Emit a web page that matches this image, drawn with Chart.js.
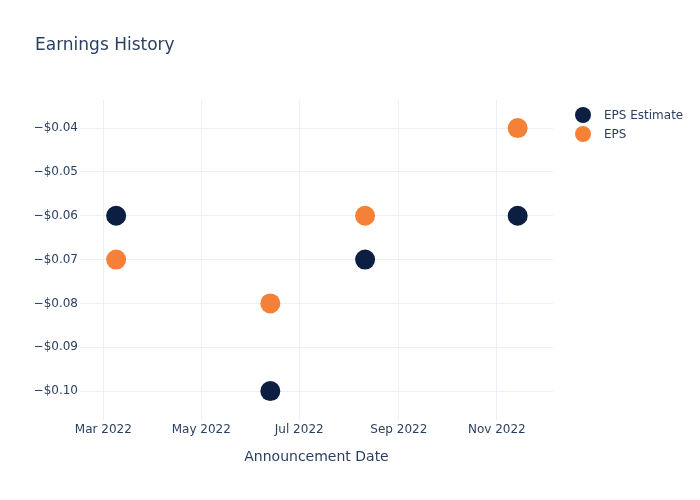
<!DOCTYPE html>
<html>
<head>
<meta charset="utf-8">
<script src="https://cdn.jsdelivr.net/npm/chart.js@4/dist/chart.umd.min.js"></script>
<style>
    body { margin: 0; background: #fff; }
    #wrap { position: relative; width: 700px; height: 500px; }
    #legend {
        position: absolute; left: 575px; top: 105px;
        margin: 0; padding: 0; list-style: none;
        font-family: 'DejaVu Sans', sans-serif; font-size: 12px; color: #2a3f5f;
    }
    #legend li { display: flex; align-items: center; height: 19px; white-space: nowrap; }
    #legend .dot { width: 16px; height: 16px; border-radius: 50%; margin-right: 13px; }
</style>
</head>
<body>
<div id="wrap">
    <canvas id="epsChart" width="700" height="500"></canvas>
    <ul id="legend"></ul>
</div>
<script>

/* ==========================
   DATA
========================== */

const announceDates = ["2022-03-09", "2022-06-13", "2022-08-11", "2022-11-14"];
const epsEstimate = [-0.06, -0.10, -0.07, -0.06];
const epsActual = [-0.07, -0.08, -0.06, -0.04];

const xTickDates = ["2022-03-01", "2022-05-01", "2022-07-01", "2022-09-01", "2022-11-01"];
const xTickLabels = ["Mar 2022", "May 2022", "Jul 2022", "Sep 2022", "Nov 2022"];
const yTickValues = [-0.10, -0.09, -0.08, -0.07, -0.06, -0.05, -0.04];

const xRange = ["2022-02-14T12:00:00Z", "2022-12-06T00:00:00Z"];
const yRange = [-0.1066, -0.0336];

/* ==========================
   HELPERS
========================== */

const textColor = "#2a3f5f";
const gridColor = "#ebf0f8";
const fontFamily = "'DejaVu Sans', sans-serif";
const seriesColors = ["#0c1f42", "#f58139"];

function toTime(s) {
    return new Date(s.length === 10 ? s + "T00:00:00Z" : s).getTime();
}

function points(values) {
    return values.map((v, i) => ({ x: toTime(announceDates[i]), y: v }));
}

// html legend built from the chart's datasets
const htmlLegend = {
    id: "htmlLegend",
    afterUpdate(chart) {
        const list = document.getElementById("legend");
        list.innerHTML = "";
        chart.data.datasets.forEach((ds) => {
            const li = document.createElement("li");
            const dot = document.createElement("span");
            dot.className = "dot";
            dot.style.background = ds.backgroundColor;
            li.appendChild(dot);
            li.appendChild(document.createTextNode(ds.label));
            list.appendChild(li);
        });
    }
};

/* ==========================
   CHART
========================== */

const canvas = document.getElementById("epsChart");

new Chart(canvas, {

    type: "scatter",

    data: {
        datasets: [
            {
                label: "EPS Estimate",
                data: points(epsEstimate),
                backgroundColor: seriesColors[0],
                borderColor: seriesColors[0],
                pointRadius: 10,
                pointBorderWidth: 0
            },
            {
                label: "EPS",
                data: points(epsActual),
                backgroundColor: seriesColors[1],
                borderColor: seriesColors[1],
                pointRadius: 10,
                pointBorderWidth: 0
            }
        ]
    },

    plugins: [htmlLegend],

    options: {

        responsive: false,
        animation: false,
        events: [],

        layout: {
            padding: { left: 35, top: 0, right: 147, bottom: 0 }
        },

        plugins: {

            title: {
                display: true,
                text: "Earnings History",
                align: "start",
                color: textColor,
                font: { family: fontFamily, size: 17, weight: "normal" },
                padding: { top: 35, bottom: 44.6 }
            },

            legend: { display: false },

            tooltip: { enabled: false }
        },

        scales: {

            x: {
                type: "linear",
                min: toTime(xRange[0]),
                max: toTime(xRange[1]),
                grid: { color: gridColor, drawTicks: false },
                border: { display: false },
                afterBuildTicks: (scale) => {
                    scale.ticks = xTickDates.map(d => ({ value: toTime(d) }));
                },
                afterFit: (scale) => { scale.height = 80; },
                ticks: {
                    color: textColor,
                    font: { family: fontFamily, size: 12 },
                    padding: 3,
                    maxRotation: 0,
                    autoSkip: false,
                    callback: (value) => {
                        const i = xTickDates.findIndex(d => toTime(d) === value);
                        return i >= 0 ? xTickLabels[i] : "";
                    }
                },
                title: {
                    display: true,
                    text: "Announcement Date",
                    color: textColor,
                    font: { family: fontFamily, size: 14 },
                    padding: { top: 0, bottom: 34 }
                }
            },

            y: {
                type: "linear",
                min: yRange[0],
                max: yRange[1],
                grid: { color: gridColor, drawTicks: false },
                border: { display: false },
                afterBuildTicks: (scale) => {
                    scale.ticks = yTickValues.map(v => ({ value: v }));
                },
                afterFit: (scale) => { scale.width = 45; },
                ticks: {
                    color: textColor,
                    font: { family: fontFamily, size: 12 },
                    padding: 2,
                    callback: (value) => "\u2212$" + Math.abs(value).toFixed(2)
                }
            }
        }
    }
});
</script>
</body>
</html>
